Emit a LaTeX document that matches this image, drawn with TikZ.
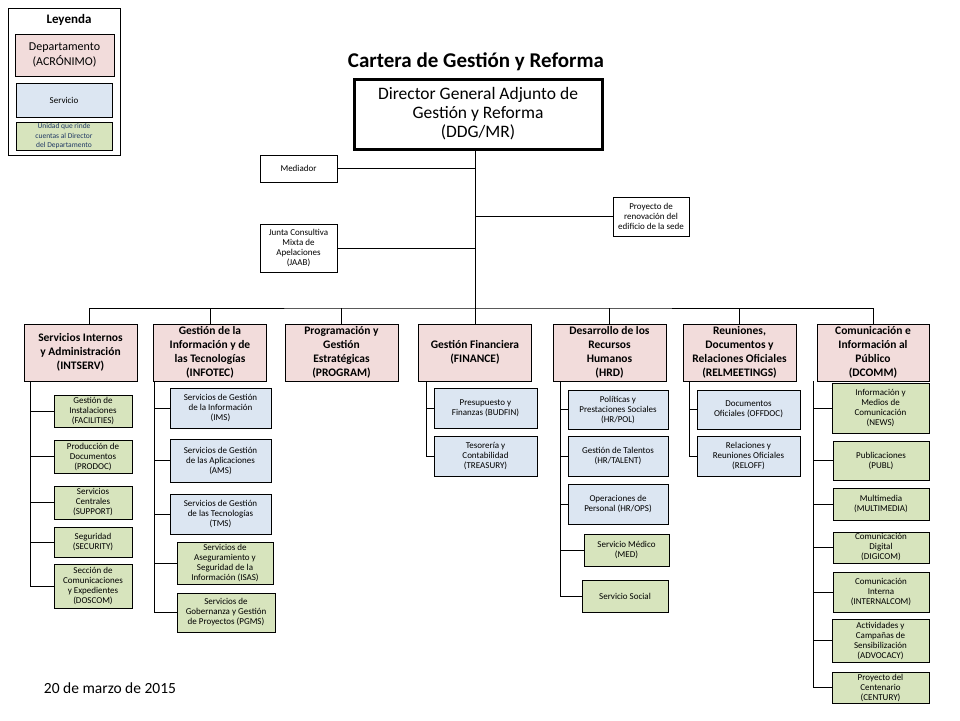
\documentclass[tikz,border=0pt]{standalone}
\usepackage{fontspec}
\setmainfont{Carlito}
\usepackage{tikz}
\usepackage{xcolor}
\usetikzlibrary{positioning}
\definecolor{dept-pink}{HTML}{F2DCDB}
\definecolor{service-blue}{HTML}{DCE6F2}
\definecolor{unit-green}{HTML}{D7E4BD}
\definecolor{legend-navy}{HTML}{1F3864}
\tikzset{
    org-line/.style = {draw=black, line width=0.9pt},
    box-size/.style 2 args = {minimum width=#1pt, minimum height=#2pt},
    plain-box/.style = {draw=black, fill=white, line width=0.8pt, align=center, inner sep=1pt, font=\fontsize{9}{10}\selectfont},
    dept-box/.style = {plain-box, fill=dept-pink, inner sep=0pt, font=\fontsize{11.5}{14}\selectfont\bfseries, box-size={113}{57}},
    service-box/.style = {plain-box, fill=service-blue},
    unit-box/.style = {plain-box, fill=unit-green},
    director-box/.style = {draw=black, line width=3pt, fill=white, align=center, font=\fontsize{17.5}{19}\selectfont, box-size={248}{70}},
    chart-title/.style = {font=\fontsize{21}{24}\selectfont\bfseries},
    legend-title/.style = {font=\fontsize{13}{15}\selectfont\bfseries, inner sep=1pt},
}

\begin{document}
\begin{tikzpicture}[x=1pt, y=-1pt]
\useasboundingbox (0,0) rectangle (960,720);

\node [plain-box, box-size={112}{147}] (legend) at (64,81.5) {};
\node [legend-title, below=6pt, xshift=5pt] at (legend.north) {Leyenda};
\node [plain-box, fill=dept-pink, font=\fontsize{12}{15}\selectfont, box-size={99}{42}] (legend-dept) at (64.5,55) {Departamento\\(ACRÓNIMO)};
\node [service-box, box-size={96}{34}] (legend-service) at (64,100) {Servicio};
\node [unit-box, text=legend-navy, font=\fontsize{7.5}{9.2}\selectfont, box-size={96}{28}] (legend-unit) at (64,136) {Unidad que rinde\\cuentas al Director\\del Departamento};

\node [chart-title] (title) at (476,62) {Cartera de Gestión y Reforma};
\node [director-box] (ddg) at (478,114) {Director General Adjunto de\\Gestión y Reforma\\(DDG/MR)};

\node [plain-box, box-size={77}{27}] (mediador) at (298.5,168.5) {Mediador};
\node [plain-box, box-size={77}{48}] (jaab) at (298.5,248) {Junta Consultiva\\Mixta de\\Apelaciones\\(JAAB)};
\node [plain-box, box-size={76}{39}] (renovation) at (651,216.5) {Proyecto de\\renovación del\\edificio de la sede};

\node [dept-box] (intserv) at (80.5,352.5) {Servicios Internos\\y Administración\\(INTSERV)};
\node [dept-box] (infotec) at (210,352.5) {Gestión de la\\Información y de\\las Tecnologías\\(INFOTEC)};
\node [dept-box] (program) at (341.5,352.5) {Programación y\\Gestión\\Estratégicas\\(PROGRAM)};
\node [dept-box] (finance) at (475,352.5) {Gestión Financiera\\(FINANCE)};
\node [dept-box] (hrd) at (609.5,352.5) {Desarrollo de los\\Recursos\\Humanos\\(HRD)};
\node [dept-box] (relmeet) at (739.5,352.5) {Reuniones,\\Documentos y\\Relaciones Oficiales\\(RELMEETINGS)};
\node [dept-box, box-size={112}{57}] (dcomm) at (873,352.5) {Comunicación e\\Información al\\Público\\(DCOMM)};

\coordinate (bar) at (475,308);
\draw [org-line] (bar |- ddg.south) -- (finance.north);
\draw [org-line] (mediador.east) -- (mediador.east -| bar);
\draw [org-line] (jaab.east) -- (jaab.east -| bar);
\draw [org-line] (renovation.west) -- (renovation.west -| bar);
\draw [org-line] ([xshift=9pt]intserv.north) |- (bar) -| (dcomm.north);
\foreach \dept in {infotec,program,hrd,relmeet}
    \draw [org-line] (\dept.north) -- (\dept.north |- bar);

\node [unit-box, box-size={78}{32}] (facilities) at (93,411) {Gestión de\\Instalaciones\\(FACILITIES)};
\node [unit-box, box-size={78}{33}] (prodoc) at (93,456.5) {Producción de\\Documentos\\(PRODOC)};
\node [unit-box, box-size={78}{33}] (support) at (93,502.5) {Servicios\\Centrales\\(SUPPORT)};
\node [unit-box, box-size={78}{30}] (security) at (93,542) {Seguridad\\(SECURITY)};
\node [unit-box, box-size={78}{44}] (doscom) at (93,586) {Sección de\\Comunicaciones\\y Expedientes\\(DOSCOM)};

\node [service-box, box-size={101}{40}] (ims) at (220.5,408) {Servicios de Gestión\\de la Información\\(IMS)};
\node [service-box, box-size={101}{43}] (ams) at (220.5,460.5) {Servicios de Gestión\\de las Aplicaciones\\(AMS)};
\node [service-box, box-size={101}{40}] (tms) at (220.5,514) {Servicios de Gestión\\de las Tecnologías\\(TMS)};
\node [unit-box, box-size={96}{42}] (isas) at (225,563) {Servicios de\\Aseguramiento y\\Seguridad de la\\Información (ISAS)};
\node [unit-box, box-size={98}{39}] (pgms) at (226,612.5) {Servicios de\\Gobernanza y Gestión\\de Proyectos (PGMS)};

\node [service-box, box-size={103}{40}] (budfin) at (485.5,408) {Presupuesto y\\Finanzas (BUDFIN)};
\node [service-box, box-size={103}{40}] (treasury) at (485.5,456) {Tesorería y\\Contabilidad\\(TREASURY)};

\node [service-box, box-size={100}{39}] (hrpol) at (618,409.5) {Políticas y\\Prestaciones Sociales\\(HR/POL)};
\node [service-box, box-size={100}{40}] (talent) at (618,456) {Gestión de Talentos\\(HR/TALENT)};
\node [service-box, box-size={100}{40}] (ops) at (618,504) {Operaciones de\\Personal (HR/OPS)};
\node [unit-box, box-size={85}{32}] (med) at (626.5,550) {Servicio Médico\\(MED)};
\node [unit-box, box-size={86}{32}] (social) at (625,596) {Servicio Social};

\node [service-box, box-size={103}{39}] (offdoc) at (748.5,409.5) {Documentos\\Oficiales (OFFDOC)};
\node [service-box, box-size={103}{40}] (reloff) at (748.5,456) {Relaciones y\\Reuniones Oficiales\\(RELOFF)};

\node [unit-box, box-size={97}{50}] (news) at (880.5,408) {Información y\\Medios de\\Comunicación\\(NEWS)};
\node [unit-box, box-size={96}{39}] (publ) at (881,460.5) {Publicaciones\\(PUBL)};
\node [unit-box, box-size={96}{32}] (multimedia) at (881,504) {Multimedia\\(MULTIMEDIA)};
\node [unit-box, box-size={96}{31}] (digicom) at (881,547.5) {Comunicación\\Digital\\(DIGICOM)};
\node [unit-box, box-size={96}{40}] (internalcom) at (881,592) {Comunicación\\Interna\\(INTERNALCOM)};
\node [unit-box, box-size={97}{43}] (advocacy) at (880.5,640.5) {Actividades y\\Campañas de\\Sensibilización\\(ADVOCACY)};
\node [unit-box, box-size={97}{31}] (century) at (880.5,687.5) {Proyecto del\\Centenario\\(CENTURY)};

\coordinate (intserv-spine) at ([xshift=7pt]intserv.south west);
\draw [org-line] (intserv-spine) |- (doscom.west);
\foreach \unit in {facilities,prodoc,support,security}
    \draw [org-line] (intserv-spine |- \unit.west) -- (\unit.west);

\coordinate (infotec-spine) at ([xshift=1pt]infotec.south west);
\draw [org-line] (infotec-spine) |- (pgms.west);
\foreach \unit in {ims,ams,tms,isas}
    \draw [org-line] (infotec-spine |- \unit.west) -- (\unit.west);

\coordinate (finance-spine) at ([xshift=8pt]finance.south west);
\draw [org-line] (finance-spine) |- (treasury.west);
\draw [org-line] (finance-spine |- budfin.west) -- (budfin.west);

\coordinate (hrd-spine) at ([xshift=8pt]hrd.south west);
\draw [org-line] (hrd-spine) |- (social.west);
\foreach \unit in {hrpol,talent,ops,med}
    \draw [org-line] (hrd-spine |- \unit.west) -- (\unit.west);

\coordinate (relmeet-spine) at ([xshift=7pt]relmeet.south west);
\draw [org-line] (relmeet-spine) |- (reloff.west);
\draw [org-line] (relmeet-spine |- offdoc.west) -- (offdoc.west);

\coordinate (dcomm-spine) at ([xshift=-3pt]dcomm.south west);
\draw [org-line] (dcomm-spine) |- (century.west);
\foreach \unit in {news,publ,multimedia,digicom,internalcom,advocacy}
    \draw [org-line] (dcomm-spine |- \unit.west) -- (\unit.west);

\node [font=\fontsize{15.5}{18}\selectfont] (date) at (110,688) {20 de marzo de 2015};
\end{tikzpicture}
\end{document}
